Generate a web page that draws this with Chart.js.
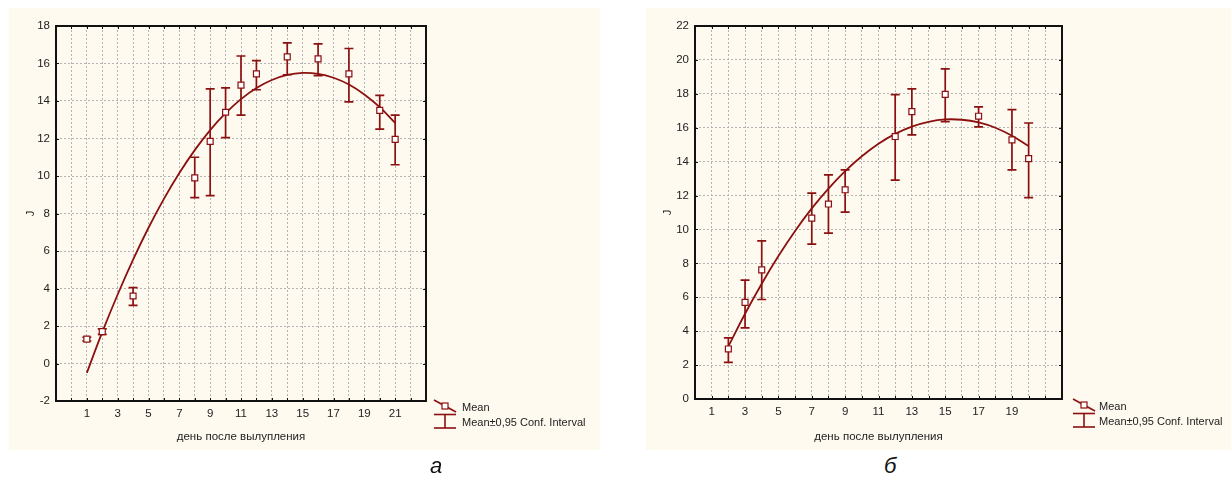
<!DOCTYPE html>
<html lang="ru">
<head>
<meta charset="UTF-8">
<title>J по дням после вылупления</title>
<script src="https://cdn.jsdelivr.net/npm/chart.js@4.4.1/dist/chart.umd.min.js"></script>
<style>
  body { margin: 0; background: #fff; width: 1231px; height: 479px; position: relative; overflow: hidden;
         font-family: "Liberation Sans", Arial, sans-serif; }
  .panel { position: absolute; background: #fffaf0; }
  #panelA { left: 9px; top: 8px; width: 591px; height: 442px; }
  #panelB { left: 646px; top: 8px; width: 585px; height: 442px; }
  .leg { position: absolute; font-size: 11px; color: #222; white-space: nowrap; line-height: 14px; }
  .legsym { position: absolute; }
  .caption { position: absolute; font-size: 22px; line-height: 22px; font-style: italic; color: #111; }
</style>
</head>
<body>
<div class="panel" id="panelA"><canvas id="chartA" width="591" height="442"></canvas></div>
<div class="panel" id="panelB"><canvas id="chartB" width="585" height="442"></canvas></div>

<svg class="legsym" style="left:433px;top:398px" width="24" height="32">
  <line x1="1" y1="2" x2="23" y2="14" stroke="#8b1010" stroke-width="1.6"/>
  <rect x="9" y="5" width="6" height="6" fill="#fff" stroke="#8b1010" stroke-width="1.2"/>
  <line x1="1" y1="16.5" x2="23" y2="16.5" stroke="#8b1010" stroke-width="1.6"/>
  <line x1="12" y1="16.5" x2="12" y2="30" stroke="#8b1010" stroke-width="1.6"/>
  <line x1="1" y1="30" x2="23" y2="30" stroke="#8b1010" stroke-width="1.6"/>
</svg>
<div class="leg" style="left:462px;top:400px">Mean</div>
<div class="leg" style="left:462px;top:415px">Mean±0,95 Conf. Interval</div>

<svg class="legsym" style="left:1072px;top:397px" width="24" height="32">
  <line x1="1" y1="2" x2="23" y2="14" stroke="#8b1010" stroke-width="1.6"/>
  <rect x="9" y="5" width="6" height="6" fill="#fff" stroke="#8b1010" stroke-width="1.2"/>
  <line x1="1" y1="16.5" x2="23" y2="16.5" stroke="#8b1010" stroke-width="1.6"/>
  <line x1="12" y1="16.5" x2="12" y2="30" stroke="#8b1010" stroke-width="1.6"/>
  <line x1="1" y1="30" x2="23" y2="30" stroke="#8b1010" stroke-width="1.6"/>
</svg>
<div class="leg" style="left:1099px;top:399px">Mean</div>
<div class="leg" style="left:1099px;top:414px">Mean±0,95 Conf. Interval</div>

<div class="caption" style="left:430px;top:455px">а</div>
<div class="caption" style="left:884px;top:455px">б</div>

<script>
  const RED = "#8b1010";

  // а
  const daysA = [1, 2, 4, 8, 9, 10, 11, 12, 14, 16, 18, 20, 21];
  const meanA = [1.3, 1.7, 3.6, 9.9, 11.85, 13.4, 14.85, 15.45, 16.35, 16.25, 15.45, 13.5, 11.95];
  const lowA = [1.2, 1.55, 3.1, 8.85, 8.95, 12.05, 13.25, 14.6, 15.4, 15.35, 13.95, 12.5, 10.6];
  const highA = [1.4, 1.85, 4.05, 11.0, 14.65, 14.7, 16.4, 16.15, 17.1, 17.05, 16.8, 14.3, 13.25];
  const fitDaysA = [1, 2, 3, 4, 5, 6, 7, 8, 9, 10, 11, 12, 13, 14, 15, 16, 17, 18, 19, 20, 21];
  const fitA = [-0.5, 1.67, 3.68, 5.54, 7.24, 8.78, 10.16, 11.38, 12.45, 13.35, 14.1,
                14.69, 15.12, 15.39, 15.5, 15.45, 15.24, 14.88, 14.35, 13.67, 12.83];
  const xLabelsA = [1, 3, 5, 7, 9, 11, 13, 15, 17, 19, 21];

  // б
  const daysB = [2, 3, 4, 7, 8, 9, 12, 13, 15, 17, 19, 20];
  const meanB = [2.95, 5.7, 7.62, 10.67, 11.5, 12.34, 15.48, 16.95, 17.97, 16.68, 15.28, 14.18];
  const lowB = [2.16, 4.2, 5.87, 9.14, 9.78, 11.02, 12.91, 15.58, 16.36, 16.05, 13.51, 11.88];
  const highB = [3.61, 7.01, 9.33, 12.14, 13.22, 13.51, 17.95, 18.29, 19.47, 17.23, 17.07, 16.28];
  const fitDaysB = [2, 3, 4, 5, 6, 7, 8, 9, 10, 11, 12, 13, 14, 15, 16, 17, 18, 19, 20];
  const fitB = [3.1, 5.03, 6.8, 8.43, 9.91, 11.24, 12.41, 13.44, 14.32, 15.06, 15.64,
                16.07, 16.35, 16.49, 16.47, 16.31, 16.0, 15.53, 14.92];
  const xLabelsB = [1, 3, 5, 7, 9, 11, 13, 15, 17, 19];

  const frame = {
    id: "frame",
    beforeDatasetsDraw(chart, args, opts) {
      const { ctx, scales: { x, y } } = chart;
      ctx.save();
      ctx.strokeStyle = RED;
      ctx.lineWidth = 1.7;
      opts.days.forEach((d, i) => {
        const px = x.getPixelForValue(d);
        const pl = y.getPixelForValue(opts.low[i]);
        const ph = y.getPixelForValue(opts.high[i]);
        ctx.beginPath();
        ctx.moveTo(px, pl); ctx.lineTo(px, ph);
        ctx.moveTo(px - 4.5, pl); ctx.lineTo(px + 4.5, pl);
        ctx.moveTo(px - 4.5, ph); ctx.lineTo(px + 4.5, ph);
        ctx.stroke();
      });
      ctx.restore();
    },
    afterDraw(chart) {
      const { ctx, chartArea: a, scales: { x, y } } = chart;
      ctx.save();
      ctx.strokeStyle = "#111";
      ctx.lineWidth = 1;
      ctx.beginPath();
      x.ticks.forEach(t => {
        const px = Math.round(x.getPixelForValue(t.value)) + 0.5;
        ctx.moveTo(px, a.top); ctx.lineTo(px, a.top + 3);
        ctx.moveTo(px, a.bottom); ctx.lineTo(px, a.bottom - 3);
      });
      y.ticks.forEach(t => {
        const py = Math.round(y.getPixelForValue(t.value)) + 0.5;
        ctx.moveTo(a.left, py); ctx.lineTo(a.left + 3, py);
        ctx.moveTo(a.right, py); ctx.lineTo(a.right - 3, py);
      });
      ctx.stroke();
      ctx.lineWidth = 2;
      ctx.strokeRect(a.left, a.top, a.right - a.left, a.bottom - a.top);
      ctx.restore();
    }
  };

  function makeChart(id, d) {
    return new Chart(document.getElementById(id), {
      data: {
        datasets: [
          {
            type: "scatter",
            data: d.days.map((v, i) => ({ x: v, y: d.mean[i] })),
            pointStyle: "rect",
            pointRadius: 4.2,
            pointBackgroundColor: "#fff",
            pointBorderColor: RED,
            pointBorderWidth: 1.2
          },
          {
            type: "line",
            data: d.fitDays.map((v, i) => ({ x: v, y: d.fit[i] })),
            borderColor: RED,
            borderWidth: 1.8,
            pointRadius: 0,
            tension: 0.4,
            fill: false
          }
        ]
      },
      options: {
        responsive: false,
        animation: false,
        devicePixelRatio: 1,
        layout: { padding: { left: 0, top: 18, right: d.padRight, bottom: 0 } },
        plugins: {
          legend: { display: false },
          tooltip: { enabled: false },
          frame: { days: d.days, low: d.low, high: d.high }
        },
        scales: {
          x: {
            type: "linear",
            min: d.xMin, max: d.xMax,
            ticks: {
              stepSize: 1, autoSkip: false, maxRotation: 0, padding: 6,
              color: "#222", font: { family: "Liberation Sans", size: 11.5 },
              callback: v => (d.xLabels.includes(v) ? String(v) : "")
            },
            grid: { color: "#b4b4b4", lineWidth: 1, drawTicks: false },
            border: { display: false, dash: [2, 2] },
            title: {
              display: true, text: "день после вылупления", color: "#222",
              font: { family: "Liberation Sans", size: 11.5 }, padding: { top: 0, bottom: 6 }
            },
            afterFit: s => { s.height = d.xHeight; }
          },
          y: {
            min: d.yMin, max: d.yMax,
            ticks: { stepSize: 2, padding: 6, color: "#222", font: { family: "Liberation Sans", size: 11.5 } },
            grid: { color: "#b4b4b4", lineWidth: 1, drawTicks: false },
            border: { display: false, dash: [2, 2] },
            title: {
              display: true, text: "J", color: "#222",
              font: { family: "Liberation Sans", size: 11 }, padding: { top: 15, bottom: 0 }
            },
            afterFit: s => { s.width = d.yWidth; }
          }
        }
      },
      plugins: [frame]
    });
  }

  makeChart("chartA", {
    days: daysA, mean: meanA, low: lowA, high: highA, fitDays: fitDaysA, fit: fitA,
    xLabels: xLabelsA, xMin: -1, xMax: 23, yMin: -2, yMax: 18,
    padRight: 174, xHeight: 49, yWidth: 47
  });
  makeChart("chartB", {
    days: daysB, mean: meanB, low: lowB, high: highB, fitDays: fitDaysB, fit: fitB,
    xLabels: xLabelsB, xMin: 0, xMax: 22, yMin: 0, yMax: 22,
    padRight: 169, xHeight: 51, yWidth: 49
  });
</script>
</body>
</html>
